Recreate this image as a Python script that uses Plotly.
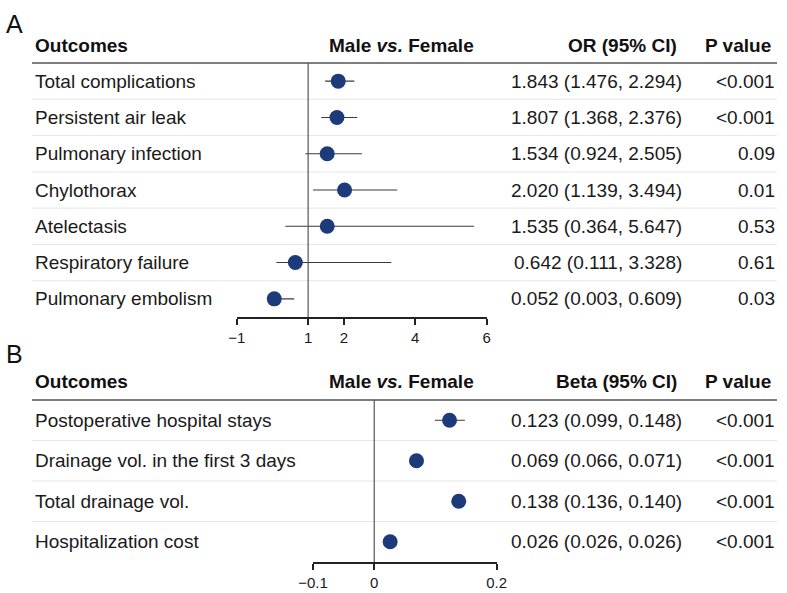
import plotly.graph_objects as go

# ---------------- data ----------------
outcomes_a = ["Total complications", "Persistent air leak", "Pulmonary infection",
              "Chylothorax", "Atelectasis", "Respiratory failure", "Pulmonary embolism"]
or_est = [1.843, 1.807, 1.534, 2.020, 1.535, 0.642, 0.052]
or_lo = [1.476, 1.368, 0.924, 1.139, 0.364, 0.111, 0.003]
or_hi = [2.294, 2.376, 2.505, 3.494, 5.647, 3.328, 0.609]
p_a = ["<0.001", "<0.001", "0.09", "0.01", "0.53", "0.61", "0.03"]
ticks_a = [-1, 1, 2, 4, 6]
ticktext_a = ["\u22121", "1", "2", "4", "6"]

outcomes_b = ["Postoperative hospital stays", "Drainage vol. in the first 3 days",
              "Total drainage vol.", "Hospitalization cost"]
beta_est = [0.123, 0.069, 0.138, 0.026]
beta_lo = [0.099, 0.066, 0.136, 0.026]
beta_hi = [0.148, 0.071, 0.140, 0.026]
p_b = ["<0.001", "<0.001", "<0.001", "<0.001"]
ticks_b = [-0.1, 0, 0.2]
ticktext_b = ["\u22120.1", "0", "0.2"]

# ---------------- layout helpers ----------------
W, H = 787, 593
FONT = "Liberation Sans, Arial, Helvetica, sans-serif"
TXT = "#1a1a1a"
DOT = "#1d3a7a"

def fx(px):
    return px / W

def fy(py):
    return 1 - py / H

fig = go.Figure()

def add_panel(xa, ya, labels, est, lo, hi, pvals):
    n = len(labels)
    rows = list(range(n))
    fig.add_trace(go.Scatter(
        x=est, y=rows, mode="markers", xaxis=xa, yaxis=ya,
        marker=dict(size=15, color=DOT),
        error_x=dict(type="data", symmetric=False,
                     array=[h - e for h, e in zip(hi, est)],
                     arrayminus=[e - l for e, l in zip(est, lo)],
                     color="#3a3a3a", thickness=1.1, width=0),
        cliponaxis=False, showlegend=False, hoverinfo="skip"))
    yref = ya
    for i in rows:
        fig.add_annotation(x=fx(33), y=i, xref="paper", yref=yref, text=labels[i],
                           xanchor="left", yanchor="middle", showarrow=False,
                           font=dict(size=19, color=TXT, family=FONT))
        fig.add_annotation(x=fx(684), y=i, xref="paper", yref=yref,
                           text=f"{est[i]:.3f} ({lo[i]:.3f}, {hi[i]:.3f})",
                           xanchor="right", yanchor="middle", showarrow=False,
                           font=dict(size=19, color=TXT, family=FONT))
        fig.add_annotation(x=fx(777), y=i, xref="paper", yref=yref,
                           text=pvals[i].replace("<", "&lt;"),
                           xanchor="right", yanchor="middle", showarrow=False,
                           font=dict(size=19, color=TXT, family=FONT))
    for i in range(n - 1):
        fig.add_shape(type="line", xref="paper", yref=yref,
                      x0=fx(32), x1=fx(777), y0=i + 0.5, y1=i + 0.5,
                      line=dict(color="#e6e6e6", width=1), layer="below")

def header(ypx, est_title):
    f = dict(size=19, color="#111", family=FONT)
    fig.add_annotation(x=fx(33), y=fy(ypx), xref="paper", yref="paper",
                       text="<b>Outcomes</b>", xanchor="left", yanchor="middle",
                       showarrow=False, font=f)
    fig.add_annotation(x=fx(476), y=fy(ypx), xref="paper", yref="paper",
                       text="<b>Male <i>vs.</i> Female</b>", xanchor="right",
                       yanchor="middle", showarrow=False, font=f)
    fig.add_annotation(x=fx(679), y=fy(ypx), xref="paper", yref="paper",
                       text=f"<b>{est_title}</b>", xanchor="right",
                       yanchor="middle", showarrow=False, font=f)
    fig.add_annotation(x=fx(773), y=fy(ypx), xref="paper", yref="paper",
                       text="<b>P value</b>", xanchor="right",
                       yanchor="middle", showarrow=False, font=f)

A_top, A_bot = 63, 317
B_top, B_bot = 400, 562

add_panel("x", "y", outcomes_a, or_est, or_lo, or_hi, p_a)
add_panel("x2", "y2", outcomes_b, beta_est, beta_lo, beta_hi, p_b)

header(45, "OR (95% CI)")
header(381, "Beta (95% CI)")

for ypx in (A_top, B_top):
    fig.add_shape(type="line", xref="paper", yref="paper",
                  x0=fx(32), x1=fx(777), y0=fy(ypx), y1=fy(ypx),
                  line=dict(color="#555555", width=1.5))

fig.add_shape(type="line", xref="x", yref="y domain", x0=1, x1=1, y0=0, y1=1,
              line=dict(color="#555555", width=1.2))
fig.add_shape(type="line", xref="x2", yref="y2 domain", x0=0, x1=0, y0=0, y1=1,
              line=dict(color="#555555", width=1.2))

for letter, ypx in (("A", 24), ("B", 354)):
    fig.add_annotation(x=fx(4), y=fy(ypx), xref="paper", yref="paper", text=letter,
                       xanchor="left", yanchor="middle", showarrow=False,
                       font=dict(size=25, color="#111", family=FONT))

axis_common = dict(showgrid=False, zeroline=False, showline=True,
                   linecolor="#222222", linewidth=1.5, ticks="outside",
                   ticklen=6, tickwidth=1.5, tickcolor="#222222",
                   tickfont=dict(size=15, color=TXT, family=FONT),
                   fixedrange=True, automargin=False)

fig.update_layout(
    width=W, height=H, margin=dict(l=0, r=0, t=0, b=0, pad=0, autoexpand=False),
    autosize=False,
    paper_bgcolor="white", plot_bgcolor="white",
    font=dict(family=FONT, color=TXT),
    xaxis=dict(domain=[fx(236.7), fx(486.7)], range=[-1, 6],
               tickvals=ticks_a, ticktext=ticktext_a, anchor="y", **axis_common),
    yaxis=dict(domain=[fy(A_bot), fy(A_top)], range=[len(outcomes_a) - 0.5, -0.5],
               visible=False, fixedrange=True, automargin=False),
    xaxis2=dict(domain=[fx(313.0), fx(496.7)], range=[-0.1, 0.2],
                tickvals=ticks_b, ticktext=ticktext_b, anchor="y2", **axis_common),
    yaxis2=dict(domain=[fy(B_bot), fy(B_top)], range=[len(outcomes_b) - 0.5, -0.5],
                visible=False, fixedrange=True, automargin=False),
)

fig.write_html("out.html", config={"displayModeBar": False},
               post_script="document.body.style.margin='0';")
